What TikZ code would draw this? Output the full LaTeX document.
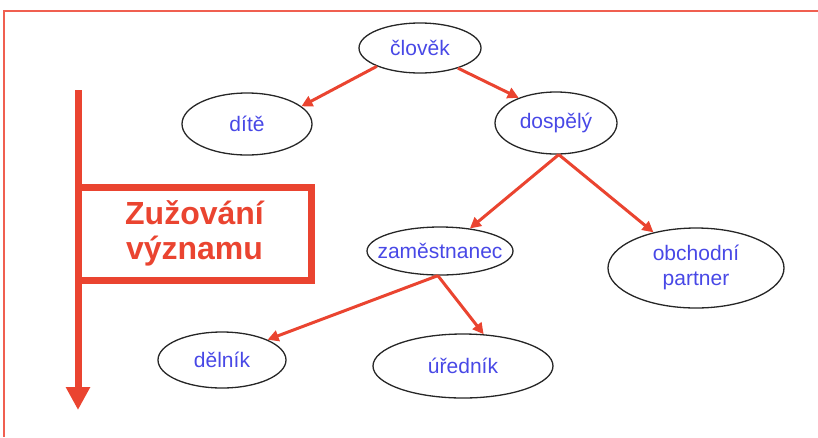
\documentclass[tikz,border=0pt]{standalone}
\usepackage{fontspec}
\setmainfont{Liberation Sans}
\usetikzlibrary{shapes.geometric,arrows.meta}
\definecolor{arrowred}{RGB}{234,68,48}
\definecolor{framered}{RGB}{240,95,80}
\definecolor{labelblue}{RGB}{72,72,230}
\begin{document}
\begin{tikzpicture}[x=1pt,y=-1pt,
  term/.style={ellipse, draw=black!85, line width=1.3pt, inner sep=0pt,
    font=\fontsize{21}{25}\selectfont, text=labelblue},
  link/.style={draw=arrowred, line width=3pt, -{Triangle[length=11pt,width=11pt]}},
  axis/.style={draw=arrowred, line width=7pt, -{Triangle[length=23pt,width=23pt]}},
]
\useasboundingbox (0,0) rectangle (818,437);
% outer frame (only top and left edges fall inside the picture)
\draw[framered, line width=1.5pt] (818,11) -- (4,11) -- (4,437);

% terms of the hierarchy
\node[term, minimum width=122, minimum height=50] (clovek) at (420,48) {\makebox[0pt]{člověk}};
\node[term, minimum width=130, minimum height=62] (dite) at (247,124) {\makebox[0pt]{dítě}};
\node[term, minimum width=122, minimum height=62] (dospely) at (556,123) {\makebox[0pt]{dospělý}};
\node[term, minimum width=146, minimum height=48] (zamestnanec) at (440,251) {\makebox[0pt]{zaměstnanec}};
\node[term, minimum width=176, minimum height=80] (partner) at (696,268)
  {\makebox[0pt]{\begin{tabular}{@{}c@{}}obchodní\\partner\end{tabular}}};
\node[term, minimum width=128, minimum height=56] (delnik) at (222,360) {\makebox[0pt]{dělník}};
\node[term, minimum width=180, minimum height=64] (urednik) at (463,366) {\makebox[0pt]{úředník}};

% links between terms
\draw[link] (clovek.203) -- (dite.18);
\draw[link] (clovek.332) -- (dospely.146);
\draw[link] (dospely.275) -- (zamestnanec.37);
\draw[link] (dospely.275) -- (partner.140);
\draw[link] (zamestnanec.265) -- (delnik.24);
\draw[link] (zamestnanec.265) -- (urednik.57);

% narrowing axis with its label box
\coordinate (axtop) at (78,90);
\coordinate (axend) at (78,410);
\draw[axis] (axtop) -- (axend);
\node[draw=arrowred, line width=7pt, minimum width=233pt, minimum height=93pt,
  inner sep=0pt, align=center, text=arrowred,
  font=\bfseries\fontsize{32}{35}\selectfont] (narrowing) at (194.5,233.5)
  {Zužování\\významu};
\end{tikzpicture}
\end{document}
